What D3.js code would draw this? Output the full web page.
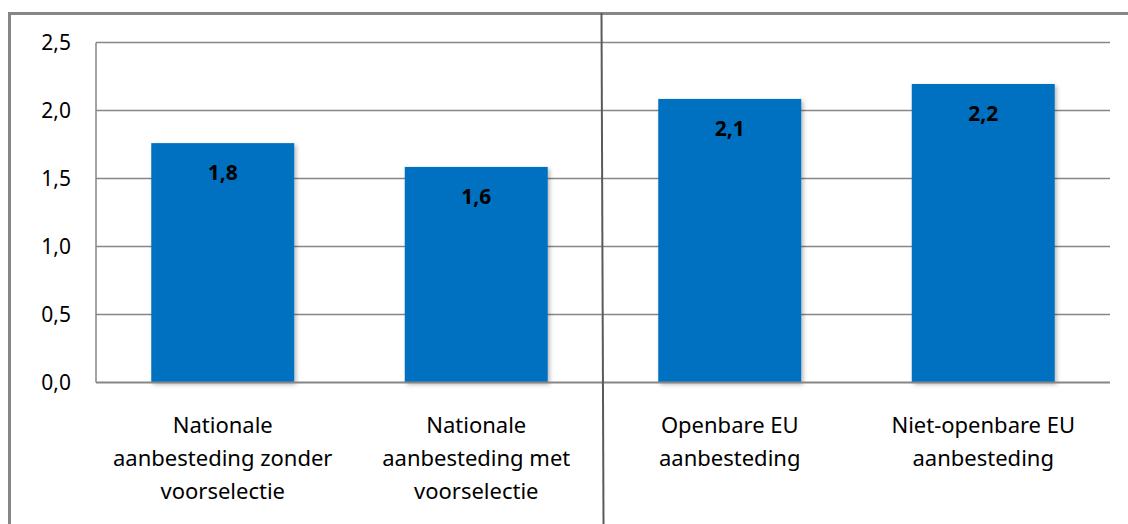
<!DOCTYPE html>
<html>
<head>
<meta charset="utf-8">
<script src="https://cdn.jsdelivr.net/npm/d3@7"></script>
<style>
  html, body { margin: 0; padding: 0; background: #fff; }
  svg { display: block; font-family: "Noto Sans", "Open Sans", sans-serif; }
</style>
</head>
<body>
<svg id="chart" width="1128" height="524"></svg>
<script>
const categories = [
  ['Nationale', 'aanbesteding zonder', 'voorselectie'],
  ['Nationale', 'aanbesteding met', 'voorselectie'],
  ['Openbare EU', 'aanbesteding'],
  ['Niet-openbare EU', 'aanbesteding']
];
const values = [1.76, 1.585, 2.085, 2.195];
const yTicks = [0, 0.5, 1.0, 1.5, 2.0, 2.5];

const svg = d3.select('#chart');
const W = 1128, H = 524;
const plot = { left: 96, right: 1110, top: 42.5, bottom: 382.5 };

const ids = categories.map((c, i) => i);
const x = d3.scaleBand()
  .domain(ids)
  .range([plot.left, plot.right])
  .paddingInner(0.436)
  .paddingOuter(0.218);
const y = d3.scaleLinear().domain([0, 2.5]).range([plot.bottom, plot.top]);
const fmt = v => d3.format('.1f')(v).replace('.', ',');

const defs = svg.append('defs');
const f = defs.append('filter').attr('id', 'shadow')
  .attr('x', '-10%').attr('y', '-10%').attr('width', '130%').attr('height', '130%');
f.append('feDropShadow')
  .attr('dx', 2).attr('dy', 2).attr('stdDeviation', 2.2)
  .attr('flood-color', '#000').attr('flood-opacity', 0.28);

// outer frame (top + left only visible)
svg.append('path')
  .attr('d', `M9.5,${H} V13.5 H${W}`)
  .attr('fill', 'none').attr('stroke', '#868686').attr('stroke-width', 3);

// gridlines
svg.append('g').selectAll('line')
  .data(yTicks.filter(t => t > 0))
  .join('line')
  .attr('x1', plot.left).attr('x2', plot.right)
  .attr('y1', d => y(d)).attr('y2', d => y(d))
  .attr('stroke', '#868686').attr('stroke-width', 1.5);

// y axis line
svg.append('line')
  .attr('x1', plot.left).attr('x2', plot.left)
  .attr('y1', plot.top).attr('y2', plot.bottom)
  .attr('stroke', '#868686').attr('stroke-width', 1.5);

// tick labels
svg.append('g').selectAll('text')
  .data(yTicks)
  .join('text')
  .attr('x', 71)
  .attr('y', d => y(d) + 7)
  .attr('text-anchor', 'end')
  .attr('font-size', 21)
  .attr('fill', '#000')
  .text(d => fmt(d));

// bars
svg.append('g').selectAll('rect')
  .data(values)
  .join('rect')
  .attr('x', (d, i) => x(i))
  .attr('width', x.bandwidth())
  .attr('y', d => y(d))
  .attr('height', d => y(0) - y(d))
  .attr('fill', '#0070C0')
  .attr('filter', 'url(#shadow)');

// baseline axis
svg.append('line')
  .attr('x1', plot.left).attr('x2', plot.right)
  .attr('y1', y(0)).attr('y2', y(0))
  .attr('stroke', '#868686').attr('stroke-width', 2);

// value labels
svg.append('g').selectAll('text')
  .data(values)
  .join('text')
  .attr('x', (d, i) => x(i) + x.bandwidth() / 2)
  .attr('y', d => y(d) + 37)
  .attr('text-anchor', 'middle')
  .attr('font-size', 21)
  .attr('font-weight', 'bold')
  .attr('fill', '#000')
  .text(d => fmt(d));

// category labels
const cat = svg.append('g').selectAll('text')
  .data(categories)
  .join('text')
  .attr('text-anchor', 'middle')
  .attr('font-size', 22)
  .attr('fill', '#000');
cat.each(function (lines, i) {
  const t = d3.select(this);
  lines.forEach((ln, j) => {
    t.append('tspan')
      .attr('x', x(i) + x.bandwidth() / 2)
      .attr('y', 433 + j * 33)
      .text(ln);
  });
});

// divider between national and EU groups
const divX = (x(1) + x.bandwidth() + x(2)) / 2;
svg.append('line')
  .attr('x1', divX - 1.5).attr('x2', divX + 0.5)
  .attr('y1', 13).attr('y2', H)
  .attr('stroke', '#5a5a5a').attr('stroke-width', 2);
</script>
</body>
</html>
